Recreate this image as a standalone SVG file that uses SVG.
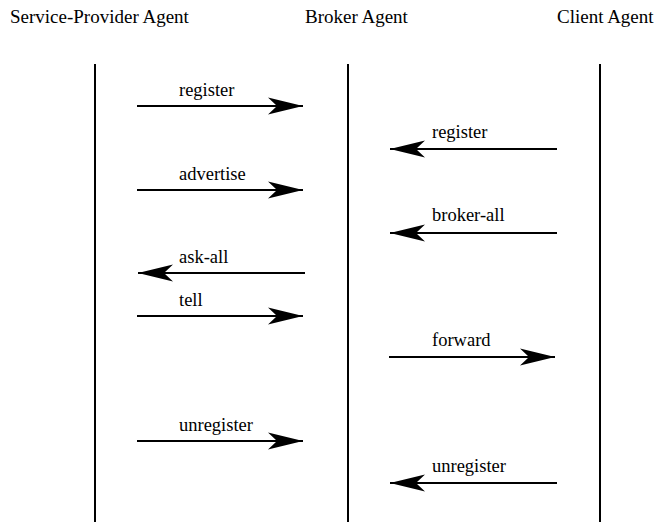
<svg xmlns="http://www.w3.org/2000/svg" width="657" height="522" viewBox="0 0 657 522">
<defs>
<marker id="ah" markerUnits="userSpaceOnUse" markerWidth="36" markerHeight="20" refX="35" refY="10" orient="auto">
<path d="M0,1.5 L35,10 L0,18.5 L9,10 Z" fill="#000"/>
</marker>
<style>
text{font-family:"Liberation Serif","Times New Roman",serif;fill:#000}
.h{font-size:19px}
.l{font-size:18.5px}
.life{stroke:#000;stroke-width:2;fill:none}
.msg{stroke:#000;stroke-width:2.2;fill:none;marker-end:url(#ah)}
</style>
</defs>
<rect width="657" height="522" fill="#fff"/>
<g id="service-provider">
<text class="h" x="10" y="23">Service-Provider Agent</text>
<line class="life" x1="95" y1="64" x2="95" y2="522"/>
</g>
<g id="broker">
<text class="h" x="305" y="23">Broker Agent</text>
<line class="life" x1="348" y1="64" x2="348" y2="522"/>
</g>
<g id="client">
<text class="h" x="557" y="23">Client Agent</text>
<line class="life" x1="600" y1="64" x2="600" y2="522"/>
</g>
<g id="connectors">
<line class="msg" x1="137" y1="106" x2="303" y2="106"/>
<text class="l" x="179" y="96">register</text>
<line class="msg" x1="557" y1="149" x2="390" y2="149"/>
<text class="l" x="432" y="138">register</text>
<line class="msg" x1="137" y1="190" x2="303" y2="190"/>
<text class="l" x="179" y="180">advertise</text>
<line class="msg" x1="557" y1="233" x2="390" y2="233"/>
<text class="l" x="432" y="221">broker-all</text>
<line class="msg" x1="305" y1="273" x2="138" y2="273"/>
<text class="l" x="179" y="263">ask-all</text>
<line class="msg" x1="137" y1="316" x2="303" y2="316"/>
<text class="l" x="179" y="306">tell</text>
<line class="msg" x1="389" y1="357" x2="555" y2="357"/>
<text class="l" x="432" y="346">forward</text>
<line class="msg" x1="137" y1="441" x2="303" y2="441"/>
<text class="l" x="179" y="431">unregister</text>
<line class="msg" x1="557" y1="483" x2="390" y2="483"/>
<text class="l" x="432" y="472">unregister</text>
</g>
</svg>
